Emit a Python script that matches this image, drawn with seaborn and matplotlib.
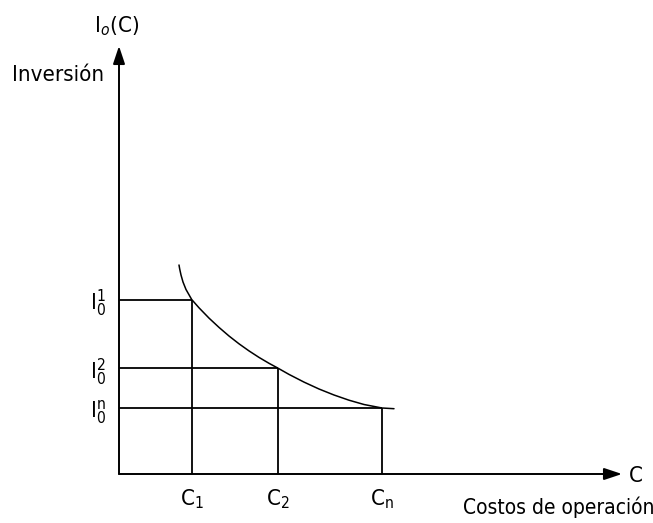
import numpy as np
import matplotlib
matplotlib.use("Agg")
import matplotlib.pyplot as plt
import seaborn as sns

# curve (x = cost, y = investment, origin at the axes corner)
curve_x = [60, 60.7, 62, 64, 67, 72.7, 80, 90, 100, 110, 120, 130, 140, 150,
           158.7, 170, 185, 200, 215, 230, 245, 263, 275]
curve_y = [209, 205, 199, 192, 184.5, 174.5, 166.2, 155.9, 146.6, 138.0, 130.2, 123.1, 116.6, 110.7,
           106, 99.6, 91.9, 85.0, 79.0, 73.8, 69.5, 66.0, 65.3]

# the three marked points
costs = [72.7, 158.7, 263]
invest = [174.5, 106, 66]
cost_labels = [r"$\mathrm{C}_1$", r"$\mathrm{C}_2$", r"$\mathrm{C}_\mathrm{n}$"]
inv_labels = [r"$\mathrm{I}_0^1$", r"$\mathrm{I}_0^2$", r"$\mathrm{I}_0^\mathrm{n}$"]

sns.set_theme(style="white")
plt.rcParams["font.family"] = ["DejaVu Sans"]
plt.rcParams["font.stretch"] = "condensed"
plt.rcParams["text.color"] = "black"
plt.rcParams["mathtext.fontset"] = "custom"
plt.rcParams["mathtext.rm"] = "DejaVu Sans:stretch=condensed"
plt.rcParams["mathtext.it"] = "DejaVu Sans:italic:stretch=condensed"

fig = plt.figure(figsize=(6.53, 5.23), dpi=100)
ax = fig.add_axes([0, 0, 1, 1])
ax.set_xlim(-119, 534)
ax.set_ylim(-49, 474)
ax.axis("off")

sns.lineplot(x=curve_x, y=curve_y, sort=False, color="black", lw=1.1, ax=ax)

# guide lines
ax.hlines(invest, 0, costs, color="black", lw=1.3)
ax.vlines(costs, 0, invest, color="black", lw=1.3)

# axes with arrows
arr = dict(arrowstyle="-|>,head_length=0.9,head_width=0.3", lw=1.4, color="black",
           shrinkA=0, shrinkB=0)
ax.annotate("", xy=(0, 428), xytext=(0, 0), arrowprops=arr)
ax.annotate("", xy=(503, 0), xytext=(0, 0), arrowprops=arr)

fs = 16
for c, lab in zip(costs, cost_labels):
    ax.text(c, -25, lab, ha="center", va="center", fontsize=fs)
for v, lab in zip(invest, inv_labels):
    ax.text(-21, v - 4, lab, ha="center", va="center", fontsize=fs)

ax.text(-2, 448, r"$\mathrm{I}_{o}\mathrm{(C)}$", ha="center", va="center", fontsize=fs)
ax.text(-107, 399, "Inversión", ha="left", va="center", fontsize=fs)
ax.text(517, -2, "C", ha="center", va="center", fontsize=fs)
ax.text(344, -33, "Costos de operación", ha="left", va="center", fontsize=15)

fig.savefig("out.png", dpi=100)
